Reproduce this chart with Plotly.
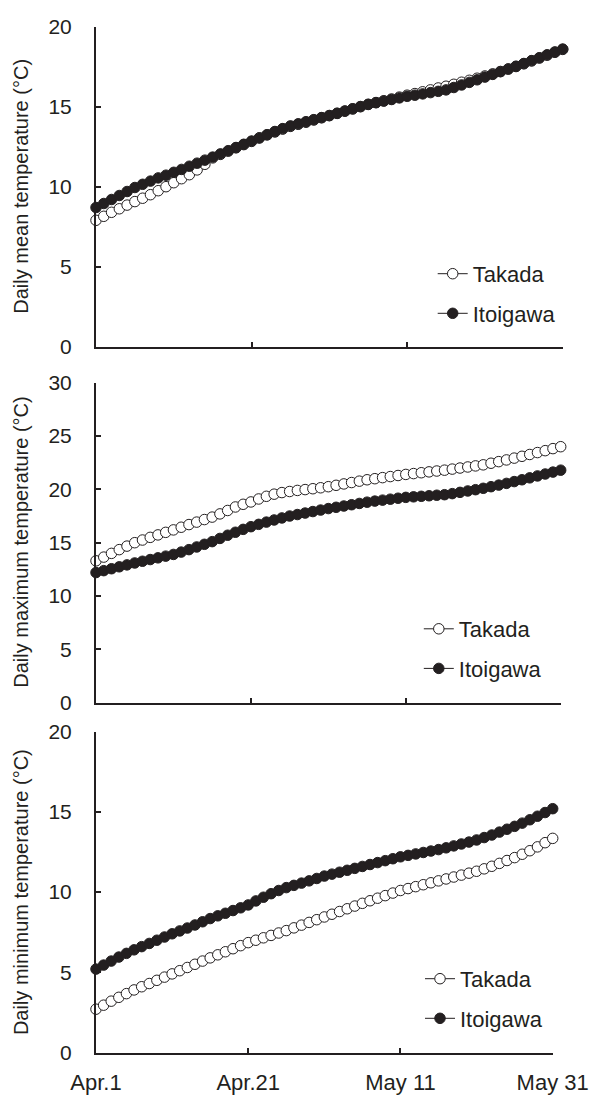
import pandas as pd
import plotly.graph_objects as go

dates = pd.date_range("2001-04-01", "2001-05-31", freq="D")
tick_dates = ["2001-04-01", "2001-04-21", "2001-05-11", "2001-05-31"]
tick_labels = ["Apr.1", "Apr.21", "May 11", "May 31"]
series_names = ["Takada", "Itoigawa"]

mean_takada = [7.90, 8.15, 8.40, 8.62, 8.85, 9.07, 9.28, 9.50, 9.75, 10.00,
               10.25, 10.50, 10.75, 11.05, 11.40, 11.80, 12.02, 12.22, 12.43, 12.63,
               12.83, 13.05, 13.24, 13.42, 13.60, 13.77, 13.90, 14.03, 14.17, 14.31,
               14.44, 14.58, 14.72, 14.86, 15.00, 15.14, 15.26, 15.37, 15.48, 15.60,
               15.72, 15.82, 15.93, 16.05, 16.17, 16.28, 16.40, 16.53, 16.65, 16.78,
               16.92, 17.05, 17.20, 17.35, 17.51, 17.68, 17.86, 18.04, 18.22, 18.40,
               18.58]
mean_itoigawa = [8.70, 8.95, 9.20, 9.45, 9.70, 9.95, 10.15, 10.35, 10.55, 10.72,
                 10.90, 11.08, 11.28, 11.47, 11.66, 11.85, 12.05, 12.25, 12.45, 12.65,
                 12.85, 13.05, 13.25, 13.45, 13.63, 13.80, 13.93, 14.06, 14.19, 14.32,
                 14.45, 14.59, 14.73, 14.87, 15.01, 15.15, 15.25, 15.35, 15.45, 15.55,
                 15.65, 15.72, 15.80, 15.88, 15.96, 16.05, 16.20, 16.36, 16.52, 16.68,
                 16.85, 17.02, 17.19, 17.36, 17.53, 17.70, 17.88, 18.06, 18.24, 18.42,
                 18.60]
max_takada = [13.30, 13.65, 14.00, 14.35, 14.68, 15.00, 15.25, 15.50, 15.73, 15.97,
              16.20, 16.45, 16.70, 16.93, 17.17, 17.40, 17.70, 18.02, 18.35, 18.60,
              18.82, 19.10, 19.35, 19.55, 19.70, 19.80, 19.90, 19.98, 20.06, 20.15,
              20.25, 20.38, 20.51, 20.64, 20.77, 20.90, 21.00, 21.10, 21.20, 21.30,
              21.40, 21.48, 21.56, 21.64, 21.72, 21.80, 21.90, 22.00, 22.10, 22.20,
              22.30, 22.45, 22.60, 22.76, 22.93, 23.10, 23.27, 23.45, 23.63, 23.82,
              24.00]
max_itoigawa = [12.20, 12.38, 12.56, 12.74, 12.92, 13.10, 13.26, 13.42, 13.58, 13.74,
                13.90, 14.12, 14.35, 14.60, 14.85, 15.10, 15.40, 15.70, 15.98, 16.25,
                16.50, 16.72, 16.93, 17.13, 17.32, 17.50, 17.64, 17.78, 17.92, 18.06,
                18.20, 18.32, 18.44, 18.56, 18.68, 18.80, 18.90, 18.99, 19.08, 19.17,
                19.25, 19.30, 19.35, 19.40, 19.45, 19.50, 19.60, 19.72, 19.85, 19.97,
                20.10, 20.25, 20.40, 20.56, 20.73, 20.90, 21.08, 21.26, 21.44, 21.62,
                21.80]
min_takada = [2.70, 2.95, 3.20, 3.44, 3.67, 3.90, 4.10, 4.30, 4.50, 4.70,
              4.90, 5.10, 5.30, 5.50, 5.70, 5.90, 6.09, 6.28, 6.47, 6.66,
              6.85, 7.00, 7.15, 7.30, 7.45, 7.60, 7.77, 7.94, 8.11, 8.28,
              8.45, 8.62, 8.79, 8.96, 9.13, 9.30, 9.46, 9.62, 9.78, 9.94,
              10.10, 10.22, 10.34, 10.46, 10.58, 10.70, 10.82, 10.94, 11.06, 11.18,
              11.30, 11.45, 11.61, 11.79, 11.97, 12.15, 12.36, 12.58, 12.82, 13.08,
              13.35]
min_itoigawa = [5.20, 5.45, 5.70, 5.95, 6.18, 6.40, 6.60, 6.80, 7.00, 7.20,
                7.40, 7.58, 7.76, 7.95, 8.15, 8.35, 8.52, 8.68, 8.85, 9.02,
                9.20, 9.45, 9.68, 9.90, 10.10, 10.28, 10.42, 10.56, 10.70, 10.85,
                11.00, 11.12, 11.24, 11.36, 11.48, 11.60, 11.72, 11.84, 11.96, 12.08,
                12.20, 12.29, 12.38, 12.47, 12.56, 12.65, 12.76, 12.88, 13.00, 13.12,
                13.25, 13.40, 13.56, 13.74, 13.92, 14.10, 14.30, 14.51, 14.73, 14.96,
                15.20]

titles = ["Daily mean temperature (°C)",
          "Daily maximum temperature (°C)",
          "Daily minimum temperature (°C)"]
y_max = [20, 30, 20]

INK = "#231f20"
FONT = "Liberation Sans, Arial, sans-serif"
W, H = 606, 1095

# panel geometry in pixels (left, right, top, bottom)
panels = [(96, 562.7, 26.7, 346.7),
          (96, 560.7, 382.7, 702.7),
          (96, 552.7, 731.7, 1052.5)]
legend_pos = [(432.7, 293.9), (418.8, 649.0), (420.0, 998.9)]

data = [(mean_takada, mean_itoigawa), (max_takada, max_itoigawa), (min_takada, min_itoigawa)]

fig = go.Figure()
for i, (tk, it) in enumerate(data):
    ax = "" if i == 0 else str(i + 1)
    leg = "legend" if i == 0 else f"legend{i + 1}"
    for name, vals, fill in [(series_names[0], tk, "white"), (series_names[1], it, INK)]:
        fig.add_trace(go.Scatter(
            x=dates, y=vals, name=name, mode="lines+markers",
            line=dict(color=INK, width=1),
            marker=dict(symbol="circle", size=10.5, color=fill, line=dict(color=INK, width=1)),
            xaxis="x" + ax, yaxis="y" + ax, legend=leg, legendgroup=f"{i}{name}",
            cliponaxis=False, showlegend=True,
        ))

layout = dict(
    width=W, height=H, margin=dict(l=0, r=0, t=0, b=0, autoexpand=False),
    paper_bgcolor="white", plot_bgcolor="white",
    font=dict(family=FONT, size=20, color=INK),
    annotations=[],
)
for i in range(3):
    l, r, t, b = panels[i]
    ax = "" if i == 0 else str(i + 1)
    layout["xaxis" + ax] = dict(
        domain=[l / W, r / W], anchor="y" + ax,
        range=["2001-04-01", "2001-05-31"],
        tickvals=tick_dates, ticktext=tick_labels if i == 2 else ["", "", "", ""],
        showline=True, linecolor=INK, linewidth=2,
        ticks="inside", ticklen=5, tickwidth=1.5, tickcolor=INK,
        showgrid=False, zeroline=False, ticklabelstandoff=9, automargin=False,
        tickfont=dict(size=22, color=INK),
    )
    layout["yaxis" + ax] = dict(
        domain=[1 - b / H, 1 - t / H], anchor="x" + ax,
        range=[0, y_max[i]], dtick=5, tick0=0,
        showline=True, linecolor=INK, linewidth=2,
        ticks="inside", ticklen=5, tickwidth=1.5, tickcolor=INK,
        showgrid=False, zeroline=False, ticklabelstandoff=18, automargin=False,
        tickfont=dict(size=21, color=INK),
    )
    lx, ly = legend_pos[i]
    layout["legend" if i == 0 else f"legend{i + 1}"] = dict(
        x=lx / W, y=1 - ly / H, xanchor="left", yanchor="middle",
        xref="paper", yref="paper",
        bgcolor="rgba(0,0,0,0)", borderwidth=0,
        font=dict(size=22, color=INK, family=FONT),
        itemwidth=30, tracegroupgap=8,
    )
    layout["annotations"].append(dict(
        text=titles[i], textangle=-90, x=21 / W, y=1 - (t + b) / 2 / H,
        xref="paper", yref="paper", xanchor="center", yanchor="middle",
        showarrow=False, font=dict(size=20, color=INK, family=FONT),
    ))

fig.update_layout(**layout)
fig.write_html(
    "out.html",
    config={"responsive": False, "displayModeBar": False},
    post_script="document.body.style.margin='0';document.body.style.overflow='hidden';",
)
